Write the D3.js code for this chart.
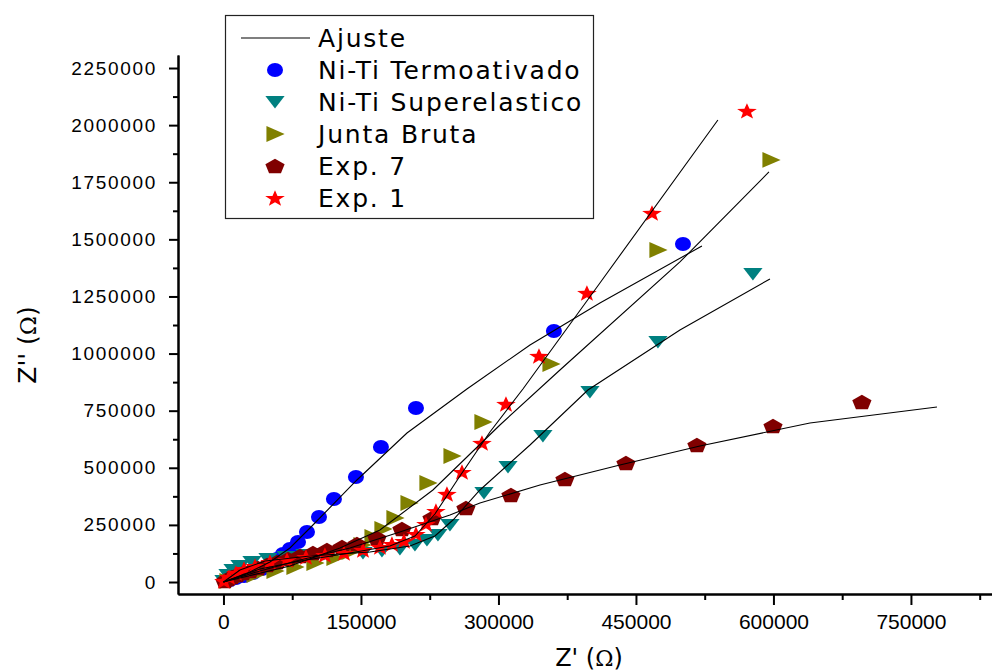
<!DOCTYPE html>
<html>
<head>
<meta charset="utf-8">
<script src="https://cdn.jsdelivr.net/npm/d3@7"></script>
<style>
  body { margin: 0; background: #fff; }
  svg { display: block; font-family: "DejaVu Sans", sans-serif; }
  .axis path, .axis line { stroke: #000; stroke-width: 2; }
  .axis text { fill: #000; }
</style>
</head>
<body>
<div id="chart-area"></div>
<script>
// Z' (x) and Z'' (y) in ohms
let termoativado = [[2700,4400],[7100,8800],[13600,17500],[22400,26300],[32200,39400],[42000,56900],
    [51800,83200],[58400,100700],[64900,122600],[72500,144500],[81300,175100],[91100,218900],
    [104200,284600],[120500,363400],[144500,459700],[171800,591000],[210000,761800],
    [360500,1098900],[501300,1479800]];
let superelastico = [[500,4400],[4900,30600],[10400,52500],[18000,70000],[31100,87600],[48500,100700],
    [68200,109500],[88900,118200],[109600,122600],[130400,127000],[152200,127000],[172900,135700],
    [192500,144500],[208900,162000],[222000,183900],[234000,205800],[247100,249500],[284200,389700],
    [310400,503500],[348500,639200],[399800,831800],[474000,1050700],[577600,1348500]];
let juntaBruta = [[4900,4400],[18000,17500],[34400,30600],[56200,48200],[78000,65700],[99800,83200],
    [121600,105100],[138000,131300],[151100,162000],[163100,197000],[174000,232000],[187100,280200],
    [202400,345900],[223100,433400],[249300,551600],[283100,700500],[357300,954400],
    [474000,1453500],[597300,1847500]];
let exp7 = [[1600,4400],[4900,13100],[9300,21900],[14700,30600],[21300,39400],[28900,48200],
    [37600,61300],[47500,74400],[58400,87600],[70400,100700],[83500,113800],[97600,127000],
    [112900,140100],[129300,153200],[145600,166400],[167500,192600],[194700,232000],[227500,280200],
    [264500,324000],[313600,380900],[372500,450900],[439100,521000],[516500,599800],[599500,683000],
    [696500,788100]];
let exp1 = [[500,4400],[6000,21900],[13600,39400],[22400,56900],[34400,70000],[50700,87600],
    [69300,96300],[90000,109500],[110700,118200],[131500,127000],[152200,140100],[170700,153200],
    [183800,166400],[196900,179500],[210000,210100],[220900,253900],[231800,310800],[243800,385300],
    [260200,481600],[282000,608600],[308200,779300],[344200,989500],[396500,1265300],
    [467500,1615500],[571100,2062100]];

// fitted curves ("Ajuste")
let fitTermo = [[0,0],[28900,43800],[50700,87600],[72500,148900],[94400,236400],[145600,446600],
    [200200,652300],[265600,845000],[334400,1037600],[410700,1221500],[522000,1471000]];
let fitSuper = [[0,0],[18000,52500],[45300,91900],[94400,113800],[159800,131300],[203500,157600],
    [230700,201400],[250400,271400],[279800,402800],[334400,599800],[397600,840600],
    [498000,1103300],[596200,1326500]];
let fitJunta = [[0,0],[72500,70000],[127100,148900],[170700,227700],[228500,402800],
    [301600,687300],[367100,928100],[498000,1401000],[595100,1795000]];
let fitExp7 = [[0,0],[39800,48200],[83500,96300],[138000,148900],[192500,218900],[247100,293300],
    [279800,345900],[345300,424700],[432500,512200],[519800,595400],[639800,696100],[778400,766200]];
let fitExp1 = [[0,0],[39800,56900],[83500,91900],[138000,127000],[181600,157600],[208900,201400],
    [230700,297700],[258000,464100],[290700,656700],[326700,845000],[410700,1309000],[539400,2022600]];

let xTicks = [0, 150000, 300000, 450000, 600000, 750000];
let xMinor = [75000, 225000, 375000, 525000, 675000, 825000];
let yTicks = [0, 250000, 500000, 750000, 1000000, 1250000, 1500000, 1750000, 2000000, 2250000];
let yMinor = [125000, 375000, 625000, 875000, 1125000, 1375000, 1625000, 1875000, 2125000];

let legendNames = ["Ajuste", "Ni-Ti Termoativado", "Ni-Ti Superelastico", "Junta Bruta", "Exp. 7", "Exp. 1"];

let W = 992, H = 672;

let svg = d3.select("#chart-area")
    .append("svg")
    .attr("width", W)
    .attr("height", H);

// scales
let x = d3.scaleLinear()
    .domain([-49600, 850000])
    .range([178, 1002.6]);

let y = d3.scaleLinear()
    .domain([-52500, 2307000])
    .range([594, 55]);

// marker shapes
function shapePath(kind) {
    if (kind == "circle") {
        let p = d3.path();
        p.arc(0, 0, 7.5, 0, 2 * Math.PI);
        return p.toString();
    }
    if (kind == "down") return "M-9,-6.5L9,-6.5L0,7Z";
    if (kind == "right") return "M-8,-8.5L9,0L-8,8.5Z";
    if (kind == "pentagon") {
        let pts = d3.range(5).map(function(k) {
            let a = -Math.PI / 2 + k * 2 * Math.PI / 5;
            return [9 * Math.cos(a) * 1.05, 8.6 * Math.sin(a) + 0.8];
        });
        return "M" + pts.join("L") + "Z";
    }
    if (kind == "star") {
        let pts = d3.range(10).map(function(k) {
            let a = -Math.PI / 2 + k * Math.PI / 5;
            let r = k % 2 == 0 ? 9.2 : 3.8;
            return [r * Math.cos(a) * 1.05, r * Math.sin(a) + 0.8];
        });
        return "M" + pts.join("L") + "Z";
    }
}

let series = [
    { data: termoativado, fit: fitTermo, color: "#0000ff", shape: "circle" },
    { data: superelastico, fit: fitSuper, color: "#008080", shape: "down" },
    { data: juntaBruta, fit: fitJunta, color: "#808000", shape: "right" },
    { data: exp7, fit: fitExp7, color: "#800000", shape: "pentagon" },
    { data: exp1, fit: fitExp1, color: "#ff0000", shape: "star" }
];

// X Axis
svg.append("g")
    .attr("class", "x axis")
    .attr("transform", "translate(0,594)")
    .call(d3.axisBottom(x).tickValues(xTicks).tickSize(11).tickSizeOuter(0).tickPadding(9)
        .tickFormat(d3.format("d")))
    .selectAll("text")
    .attr("font-size", "21px");

svg.append("g")
    .attr("class", "x axis")
    .attr("transform", "translate(0,594)")
    .call(d3.axisBottom(x).tickValues(xMinor).tickSize(6).tickSizeOuter(0).tickFormat(""));

// Y Axis
svg.append("g")
    .attr("class", "y axis")
    .attr("transform", "translate(178,0)")
    .call(d3.axisLeft(y).tickValues(yTicks).tickSize(9).tickSizeOuter(0).tickPadding(12)
        .tickFormat(d3.format("d")))
    .selectAll("text")
    .attr("font-size", "19px")
    .attr("letter-spacing", "1.7px");

svg.append("g")
    .attr("class", "y axis")
    .attr("transform", "translate(178,0)")
    .call(d3.axisLeft(y).tickValues(yMinor).tickSize(5).tickSizeOuter(0).tickFormat(""));

// markers
series.forEach(function(s) {
    svg.append("g")
        .selectAll("path")
        .data(s.data)
        .enter()
        .append("path")
        .attr("d", shapePath(s.shape))
        .attr("transform", function(d) { return "translate(" + x(d[0]) + "," + y(d[1]) + ") scale(1.07,0.93)"; })
        .attr("fill", s.color);
});

// fit lines
let line = d3.line()
    .x(function(d) { return x(d[0]); })
    .y(function(d) { return y(d[1]); });

series.forEach(function(s) {
    svg.append("path")
        .datum(s.fit)
        .attr("d", line)
        .attr("fill", "none")
        .attr("stroke", "#000")
        .attr("stroke-width", 1.1);
});

// X Label
let xl = svg.append("text")
    .attr("x", 589)
    .attr("y", 666)
    .attr("font-size", "24px")
    .attr("text-anchor", "middle");
xl.append("tspan").text("Z' (");
xl.append("tspan").attr("font-family", "DejaVu Serif").attr("font-size", "22px").text("Ω");
xl.append("tspan").text(")");

// Y Label
let yl = svg.append("text")
    .attr("transform", "translate(36,345) rotate(-90)")
    .attr("font-size", "25px")
    .attr("text-anchor", "middle");
yl.append("tspan").text("Z'' (");
yl.append("tspan").attr("font-family", "DejaVu Serif").attr("font-size", "23px").text("Ω");
yl.append("tspan").text(")");

// Legend
let legend = svg.append("g");
legend.append("rect")
    .attr("x", 225.5)
    .attr("y", 15.5)
    .attr("width", 368)
    .attr("height", 203)
    .attr("fill", "#fff")
    .attr("stroke", "#222")
    .attr("stroke-width", 1.2);

let rowY = function(i) { return 38 + i * 32; };

legend.append("line")
    .attr("x1", 241).attr("x2", 310)
    .attr("y1", rowY(0)).attr("y2", rowY(0))
    .attr("stroke", "#000")
    .attr("stroke-width", 1.1);

series.forEach(function(s, i) {
    legend.append("path")
        .attr("d", shapePath(s.shape))
        .attr("transform", "translate(275," + rowY(i + 1) + ") scale(1.07,0.93)")
        .attr("fill", s.color);
});

legend.selectAll("text")
    .data(legendNames)
    .enter()
    .append("text")
    .attr("x", 318)
    .attr("y", function(d, i) { return rowY(i); })
    .attr("dy", "0.36em")
    .attr("font-size", "25px")
    .attr("letter-spacing", "1.8px")
    .text(function(d) { return d; });
</script>
</body>
</html>
